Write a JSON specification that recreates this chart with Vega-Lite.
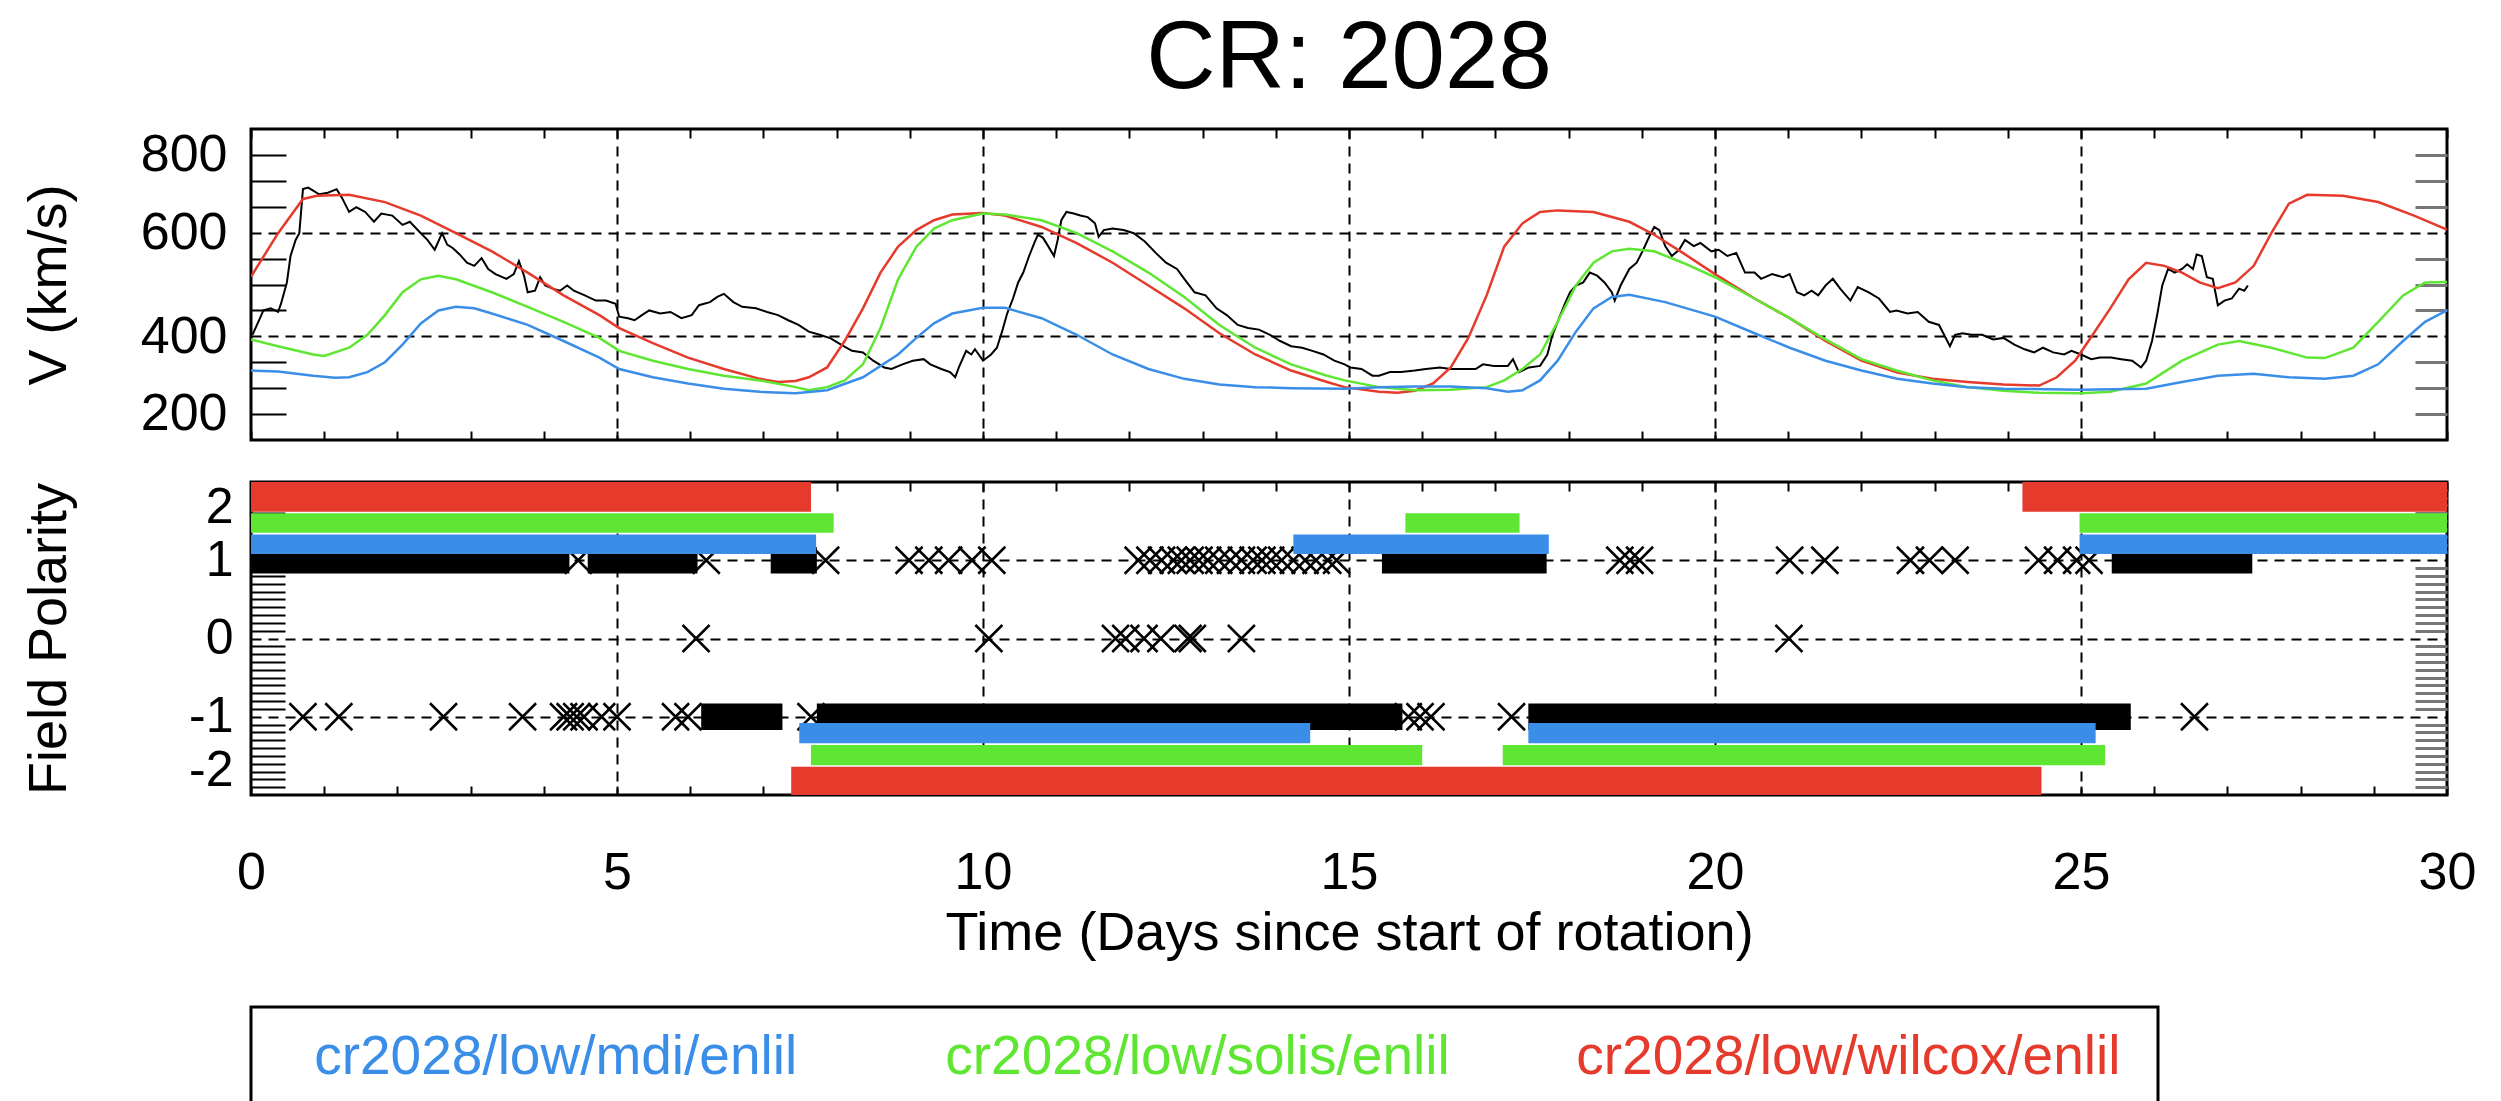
{
  "$schema": "https://vega.github.io/schema/vega-lite/v6.json",
  "background": "white",
  "padding": {"left": 20, "top": 9, "right": 5, "bottom": 0},
  "config": {
    "font": "Liberation Sans",
    "view": {"stroke": "black", "strokeWidth": 3},
    "axis": {"domain": false, "labelFont": "Liberation Sans", "titleFont": "Liberation Sans", "labelFontSize": 52, "titleFontSize": 54, "labelColor": "black", "titleColor": "black", "titleFontWeight": "normal", "tickColor": "black", "tickWidth": 2, "gridColor": "black", "gridWidth": 2, "gridDash": [10, 7], "labelOverlap": false}
  },
  "datasets": {
    "vel": [
      {"m":"observed","t":0.02,"v":403},{"m":"observed","t":0.10,"v":428},{"m":"observed","t":0.17,"v":450},{"m":"observed","t":0.27,"v":454},{"m":"observed","t":0.37,"v":447},{"m":"observed","t":0.41,"v":463},{"m":"observed","t":0.49,"v":504},{"m":"observed","t":0.54,"v":555},{"m":"observed","t":0.61,"v":586},{"m":"observed","t":0.66,"v":599},{"m":"observed","t":0.71,"v":684},{"m":"observed","t":0.78,"v":687},{"m":"observed","t":0.85,"v":681},{"m":"observed","t":0.93,"v":674},{"m":"observed","t":1.05,"v":677},{"m":"observed","t":1.17,"v":684},{"m":"observed","t":1.24,"v":668},{"m":"observed","t":1.34,"v":640},{"m":"observed","t":1.44,"v":649},{"m":"observed","t":1.56,"v":640},{"m":"observed","t":1.68,"v":621},{"m":"observed","t":1.78,"v":637},{"m":"observed","t":1.93,"v":633},{"m":"observed","t":2.07,"v":615},{"m":"observed","t":2.17,"v":621},{"m":"observed","t":2.32,"v":599},{"m":"observed","t":2.41,"v":586},{"m":"observed","t":2.51,"v":567},{"m":"observed","t":2.61,"v":599},{"m":"observed","t":2.68,"v":577},{"m":"observed","t":2.76,"v":570},{"m":"observed","t":2.85,"v":558},{"m":"observed","t":2.95,"v":542},{"m":"observed","t":3.05,"v":536},{"m":"observed","t":3.15,"v":551},{"m":"observed","t":3.24,"v":530},{"m":"observed","t":3.34,"v":520},{"m":"observed","t":3.49,"v":511},{"m":"observed","t":3.59,"v":520},{"m":"observed","t":3.66,"v":545},{"m":"observed","t":3.73,"v":517},{"m":"observed","t":3.78,"v":485},{"m":"observed","t":3.88,"v":488},{"m":"observed","t":3.95,"v":514},{"m":"observed","t":4.02,"v":498},{"m":"observed","t":4.12,"v":492},{"m":"observed","t":4.22,"v":488},{"m":"observed","t":4.32,"v":498},{"m":"observed","t":4.41,"v":488},{"m":"observed","t":4.56,"v":479},{"m":"observed","t":4.71,"v":469},{"m":"observed","t":4.85,"v":469},{"m":"observed","t":4.98,"v":463},{"m":"observed","t":5.03,"v":438},{"m":"observed","t":5.15,"v":435},{"m":"observed","t":5.24,"v":431},{"m":"observed","t":5.34,"v":441},{"m":"observed","t":5.44,"v":450},{"m":"observed","t":5.59,"v":444},{"m":"observed","t":5.73,"v":447},{"m":"observed","t":5.88,"v":435},{"m":"observed","t":6.02,"v":441},{"m":"observed","t":6.12,"v":460},{"m":"observed","t":6.27,"v":466},{"m":"observed","t":6.37,"v":476},{"m":"observed","t":6.46,"v":482},{"m":"observed","t":6.59,"v":466},{"m":"observed","t":6.71,"v":457},{"m":"observed","t":6.9,"v":454},{"m":"observed","t":7.05,"v":447},{"m":"observed","t":7.2,"v":441},{"m":"observed","t":7.34,"v":431},{"m":"observed","t":7.48,"v":422},{"m":"observed","t":7.62,"v":409},{"m":"observed","t":7.77,"v":403},{"m":"observed","t":7.92,"v":396},{"m":"observed","t":8.06,"v":384},{"m":"observed","t":8.21,"v":372},{"m":"observed","t":8.36,"v":369},{"m":"observed","t":8.5,"v":353},{"m":"observed","t":8.65,"v":340},{"m":"observed","t":8.75,"v":337},{"m":"observed","t":8.9,"v":346},{"m":"observed","t":9.04,"v":353},{"m":"observed","t":9.19,"v":356},{"m":"observed","t":9.28,"v":346},{"m":"observed","t":9.43,"v":337},{"m":"observed","t":9.55,"v":331},{"m":"observed","t":9.62,"v":321},{"m":"observed","t":9.67,"v":340},{"m":"observed","t":9.77,"v":372},{"m":"observed","t":9.84,"v":365},{"m":"observed","t":9.89,"v":375},{"m":"observed","t":10.0,"v":353},{"m":"observed","t":10.11,"v":365},{"m":"observed","t":10.19,"v":378},{"m":"observed","t":10.26,"v":409},{"m":"observed","t":10.33,"v":444},{"m":"observed","t":10.41,"v":473},{"m":"observed","t":10.48,"v":504},{"m":"observed","t":10.55,"v":523},{"m":"observed","t":10.63,"v":555},{"m":"observed","t":10.7,"v":580},{"m":"observed","t":10.75,"v":596},{"m":"observed","t":10.82,"v":590},{"m":"observed","t":10.89,"v":574},{"m":"observed","t":10.97,"v":555},{"m":"observed","t":11.02,"v":586},{"m":"observed","t":11.07,"v":624},{"m":"observed","t":11.14,"v":640},{"m":"observed","t":11.24,"v":637},{"m":"observed","t":11.33,"v":633},{"m":"observed","t":11.43,"v":630},{"m":"observed","t":11.53,"v":618},{"m":"observed","t":11.58,"v":592},{"m":"observed","t":11.65,"v":605},{"m":"observed","t":11.77,"v":608},{"m":"observed","t":11.92,"v":605},{"m":"observed","t":12.06,"v":599},{"m":"observed","t":12.21,"v":583},{"m":"observed","t":12.36,"v":561},{"m":"observed","t":12.5,"v":542},{"m":"observed","t":12.65,"v":530},{"m":"observed","t":12.75,"v":511},{"m":"observed","t":12.89,"v":485},{"m":"observed","t":13.04,"v":479},{"m":"observed","t":13.19,"v":454},{"m":"observed","t":13.33,"v":441},{"m":"observed","t":13.48,"v":422},{"m":"observed","t":13.62,"v":416},{"m":"observed","t":13.77,"v":413},{"m":"observed","t":13.92,"v":403},{"m":"observed","t":14.06,"v":391},{"m":"observed","t":14.21,"v":381},{"m":"observed","t":14.36,"v":378},{"m":"observed","t":14.5,"v":372},{"m":"observed","t":14.65,"v":365},{"m":"observed","t":14.8,"v":353},{"m":"observed","t":14.94,"v":346},{"m":"observed","t":15.02,"v":340},{"m":"observed","t":15.17,"v":337},{"m":"observed","t":15.32,"v":324},{"m":"observed","t":15.41,"v":324},{"m":"observed","t":15.56,"v":331},{"m":"observed","t":15.71,"v":331},{"m":"observed","t":15.9,"v":334},{"m":"observed","t":16.05,"v":337},{"m":"observed","t":16.24,"v":340},{"m":"observed","t":16.39,"v":337},{"m":"observed","t":16.59,"v":337},{"m":"observed","t":16.73,"v":337},{"m":"observed","t":16.83,"v":346},{"m":"observed","t":16.98,"v":343},{"m":"observed","t":17.17,"v":343},{"m":"observed","t":17.24,"v":356},{"m":"observed","t":17.32,"v":331},{"m":"observed","t":17.46,"v":340},{"m":"observed","t":17.61,"v":343},{"m":"observed","t":17.71,"v":365},{"m":"observed","t":17.78,"v":403},{"m":"observed","t":17.85,"v":428},{"m":"observed","t":17.95,"v":463},{"m":"observed","t":18.02,"v":485},{"m":"observed","t":18.1,"v":498},{"m":"observed","t":18.2,"v":504},{"m":"observed","t":18.29,"v":523},{"m":"observed","t":18.39,"v":517},{"m":"observed","t":18.49,"v":504},{"m":"observed","t":18.59,"v":485},{"m":"observed","t":18.63,"v":469},{"m":"observed","t":18.71,"v":498},{"m":"observed","t":18.83,"v":530},{"m":"observed","t":18.93,"v":542},{"m":"observed","t":19.02,"v":567},{"m":"observed","t":19.1,"v":592},{"m":"observed","t":19.17,"v":611},{"m":"observed","t":19.24,"v":605},{"m":"observed","t":19.32,"v":574},{"m":"observed","t":19.41,"v":555},{"m":"observed","t":19.51,"v":567},{"m":"observed","t":19.59,"v":586},{"m":"observed","t":19.71,"v":574},{"m":"observed","t":19.8,"v":580},{"m":"observed","t":19.95,"v":564},{"m":"observed","t":20.05,"v":567},{"m":"observed","t":20.17,"v":555},{"m":"observed","t":20.29,"v":561},{"m":"observed","t":20.41,"v":523},{"m":"observed","t":20.54,"v":523},{"m":"observed","t":20.63,"v":511},{"m":"observed","t":20.78,"v":520},{"m":"observed","t":20.93,"v":514},{"m":"observed","t":21.02,"v":520},{"m":"observed","t":21.12,"v":485},{"m":"observed","t":21.22,"v":479},{"m":"observed","t":21.32,"v":488},{"m":"observed","t":21.41,"v":479},{"m":"observed","t":21.51,"v":498},{"m":"observed","t":21.61,"v":511},{"m":"observed","t":21.71,"v":492},{"m":"observed","t":21.85,"v":469},{"m":"observed","t":21.95,"v":495},{"m":"observed","t":22.1,"v":485},{"m":"observed","t":22.24,"v":473},{"m":"observed","t":22.39,"v":447},{"m":"observed","t":22.48,"v":450},{"m":"observed","t":22.63,"v":444},{"m":"observed","t":22.77,"v":447},{"m":"observed","t":22.92,"v":428},{"m":"observed","t":23.06,"v":422},{"m":"observed","t":23.21,"v":381},{"m":"observed","t":23.28,"v":403},{"m":"observed","t":23.38,"v":406},{"m":"observed","t":23.5,"v":403},{"m":"observed","t":23.65,"v":403},{"m":"observed","t":23.8,"v":394},{"m":"observed","t":23.94,"v":397},{"m":"observed","t":24.09,"v":384},{"m":"observed","t":24.23,"v":375},{"m":"observed","t":24.36,"v":369},{"m":"observed","t":24.48,"v":378},{"m":"observed","t":24.62,"v":369},{"m":"observed","t":24.77,"v":365},{"m":"observed","t":24.87,"v":372},{"m":"observed","t":25.0,"v":365},{"m":"observed","t":25.14,"v":356},{"m":"observed","t":25.26,"v":359},{"m":"observed","t":25.41,"v":359},{"m":"observed","t":25.55,"v":356},{"m":"observed","t":25.7,"v":353},{"m":"observed","t":25.82,"v":340},{"m":"observed","t":25.89,"v":353},{"m":"observed","t":25.97,"v":391},{"m":"observed","t":26.04,"v":441},{"m":"observed","t":26.11,"v":498},{"m":"observed","t":26.19,"v":530},{"m":"observed","t":26.28,"v":523},{"m":"observed","t":26.38,"v":530},{"m":"observed","t":26.45,"v":539},{"m":"observed","t":26.53,"v":530},{"m":"observed","t":26.58,"v":558},{"m":"observed","t":26.65,"v":555},{"m":"observed","t":26.72,"v":514},{"m":"observed","t":26.8,"v":511},{"m":"observed","t":26.87,"v":460},{"m":"observed","t":26.96,"v":469},{"m":"observed","t":27.06,"v":473},{"m":"observed","t":27.16,"v":492},{"m":"observed","t":27.23,"v":488},{"m":"observed","t":27.28,"v":498},
      {"m":"wilcox","t":0,"v":515},{"m":"wilcox","t":0.37,"v":599},{"m":"wilcox","t":0.71,"v":665},{"m":"wilcox","t":0.9,"v":671},{"m":"wilcox","t":1.34,"v":673},{"m":"wilcox","t":1.83,"v":659},{"m":"wilcox","t":2.32,"v":633},{"m":"wilcox","t":2.8,"v":599},{"m":"wilcox","t":3.29,"v":564},{"m":"wilcox","t":3.78,"v":523},{"m":"wilcox","t":4.27,"v":479},{"m":"wilcox","t":4.76,"v":441},{"m":"wilcox","t":5.03,"v":416},{"m":"wilcox","t":5.49,"v":387},{"m":"wilcox","t":5.97,"v":359},{"m":"wilcox","t":6.46,"v":337},{"m":"wilcox","t":6.95,"v":318},{"m":"wilcox","t":7.2,"v":312},{"m":"wilcox","t":7.44,"v":314},{"m":"wilcox","t":7.62,"v":321},{"m":"wilcox","t":7.87,"v":340},{"m":"wilcox","t":8.11,"v":391},{"m":"wilcox","t":8.36,"v":454},{"m":"wilcox","t":8.6,"v":523},{"m":"wilcox","t":8.84,"v":573},{"m":"wilcox","t":9.09,"v":605},{"m":"wilcox","t":9.33,"v":624},{"m":"wilcox","t":9.58,"v":635},{"m":"wilcox","t":10.0,"v":638},{"m":"wilcox","t":10.3,"v":633},{"m":"wilcox","t":10.8,"v":611},{"m":"wilcox","t":11.28,"v":580},{"m":"wilcox","t":11.77,"v":542},{"m":"wilcox","t":12.26,"v":498},{"m":"wilcox","t":12.75,"v":454},{"m":"wilcox","t":13.23,"v":406},{"m":"wilcox","t":13.72,"v":365},{"m":"wilcox","t":14.21,"v":334},{"m":"wilcox","t":14.7,"v":312},{"m":"wilcox","t":14.94,"v":302},{"m":"wilcox","t":15.41,"v":293},{"m":"wilcox","t":15.66,"v":291},{"m":"wilcox","t":15.9,"v":295},{"m":"wilcox","t":16.15,"v":309},{"m":"wilcox","t":16.39,"v":340},{"m":"wilcox","t":16.63,"v":397},{"m":"wilcox","t":16.88,"v":479},{"m":"wilcox","t":17.12,"v":573},{"m":"wilcox","t":17.37,"v":618},{"m":"wilcox","t":17.61,"v":640},{"m":"wilcox","t":17.85,"v":643},{"m":"wilcox","t":18.34,"v":640},{"m":"wilcox","t":18.83,"v":621},{"m":"wilcox","t":19.17,"v":596},{"m":"wilcox","t":19.56,"v":561},{"m":"wilcox","t":20.0,"v":520},{"m":"wilcox","t":20.54,"v":473},{"m":"wilcox","t":21.02,"v":435},{"m":"wilcox","t":21.51,"v":391},{"m":"wilcox","t":22.0,"v":353},{"m":"wilcox","t":22.49,"v":330},{"m":"wilcox","t":22.97,"v":318},{"m":"wilcox","t":23.45,"v":312},{"m":"wilcox","t":23.94,"v":307},{"m":"wilcox","t":24.43,"v":305},{"m":"wilcox","t":24.67,"v":321},{"m":"wilcox","t":24.92,"v":353},{"m":"wilcox","t":25.16,"v":403},{"m":"wilcox","t":25.4,"v":454},{"m":"wilcox","t":25.65,"v":510},{"m":"wilcox","t":25.89,"v":542},{"m":"wilcox","t":26.14,"v":536},{"m":"wilcox","t":26.38,"v":523},{"m":"wilcox","t":26.62,"v":504},{"m":"wilcox","t":26.87,"v":493},{"m":"wilcox","t":27.11,"v":504},{"m":"wilcox","t":27.36,"v":536},{"m":"wilcox","t":27.6,"v":599},{"m":"wilcox","t":27.84,"v":656},{"m":"wilcox","t":28.09,"v":673},{"m":"wilcox","t":28.58,"v":671},{"m":"wilcox","t":29.06,"v":659},{"m":"wilcox","t":29.55,"v":633},{"m":"wilcox","t":30.0,"v":606},
      {"m":"solis","t":0,"v":394},{"m":"solis","t":0.37,"v":381},{"m":"solis","t":0.85,"v":365},{"m":"solis","t":1.0,"v":362},{"m":"solis","t":1.34,"v":378},{"m":"solis","t":1.59,"v":403},{"m":"solis","t":1.83,"v":441},{"m":"solis","t":2.07,"v":485},{"m":"solis","t":2.32,"v":510},{"m":"solis","t":2.56,"v":517},{"m":"solis","t":2.8,"v":510},{"m":"solis","t":3.29,"v":485},{"m":"solis","t":3.78,"v":457},{"m":"solis","t":4.27,"v":428},{"m":"solis","t":4.76,"v":397},{"m":"solis","t":5.03,"v":372},{"m":"solis","t":5.49,"v":353},{"m":"solis","t":5.97,"v":337},{"m":"solis","t":6.46,"v":324},{"m":"solis","t":6.95,"v":315},{"m":"solis","t":7.44,"v":302},{"m":"solis","t":7.62,"v":296},{"m":"solis","t":7.87,"v":302},{"m":"solis","t":8.11,"v":315},{"m":"solis","t":8.36,"v":346},{"m":"solis","t":8.6,"v":416},{"m":"solis","t":8.84,"v":510},{"m":"solis","t":9.09,"v":573},{"m":"solis","t":9.33,"v":608},{"m":"solis","t":9.58,"v":624},{"m":"solis","t":10.0,"v":637},{"m":"solis","t":10.3,"v":635},{"m":"solis","t":10.8,"v":624},{"m":"solis","t":11.28,"v":599},{"m":"solis","t":11.77,"v":564},{"m":"solis","t":12.26,"v":523},{"m":"solis","t":12.75,"v":476},{"m":"solis","t":13.23,"v":422},{"m":"solis","t":13.72,"v":378},{"m":"solis","t":14.21,"v":346},{"m":"solis","t":14.7,"v":324},{"m":"solis","t":14.94,"v":315},{"m":"solis","t":15.41,"v":302},{"m":"solis","t":15.9,"v":296},{"m":"solis","t":16.39,"v":297},{"m":"solis","t":16.88,"v":302},{"m":"solis","t":17.12,"v":315},{"m":"solis","t":17.37,"v":337},{"m":"solis","t":17.61,"v":365},{"m":"solis","t":17.85,"v":428},{"m":"solis","t":18.1,"v":498},{"m":"solis","t":18.34,"v":542},{"m":"solis","t":18.59,"v":564},{"m":"solis","t":18.83,"v":569},{"m":"solis","t":19.17,"v":564},{"m":"solis","t":19.56,"v":542},{"m":"solis","t":20.0,"v":514},{"m":"solis","t":20.54,"v":473},{"m":"solis","t":21.02,"v":435},{"m":"solis","t":21.51,"v":394},{"m":"solis","t":22.0,"v":356},{"m":"solis","t":22.48,"v":334},{"m":"solis","t":22.97,"v":315},{"m":"solis","t":23.45,"v":302},{"m":"solis","t":23.94,"v":295},{"m":"solis","t":24.43,"v":291},{"m":"solis","t":25.0,"v":290},{"m":"solis","t":25.4,"v":293},{"m":"solis","t":25.89,"v":309},{"m":"solis","t":26.38,"v":353},{"m":"solis","t":26.87,"v":384},{"m":"solis","t":27.16,"v":391},{"m":"solis","t":27.6,"v":378},{"m":"solis","t":28.09,"v":359},{"m":"solis","t":28.33,"v":358},{"m":"solis","t":28.72,"v":378},{"m":"solis","t":29.06,"v":428},{"m":"solis","t":29.4,"v":479},{"m":"solis","t":29.7,"v":504},{"m":"solis","t":30.0,"v":505},
      {"m":"mdi","t":0,"v":334},{"m":"mdi","t":0.37,"v":332},{"m":"mdi","t":0.85,"v":324},{"m":"mdi","t":1.15,"v":320},{"m":"mdi","t":1.34,"v":321},{"m":"mdi","t":1.59,"v":331},{"m":"mdi","t":1.83,"v":350},{"m":"mdi","t":2.07,"v":384},{"m":"mdi","t":2.32,"v":425},{"m":"mdi","t":2.56,"v":450},{"m":"mdi","t":2.8,"v":457},{"m":"mdi","t":3.05,"v":454},{"m":"mdi","t":3.29,"v":444},{"m":"mdi","t":3.78,"v":422},{"m":"mdi","t":4.27,"v":391},{"m":"mdi","t":4.76,"v":359},{"m":"mdi","t":5.03,"v":337},{"m":"mdi","t":5.49,"v":321},{"m":"mdi","t":5.97,"v":309},{"m":"mdi","t":6.46,"v":299},{"m":"mdi","t":6.95,"v":293},{"m":"mdi","t":7.44,"v":290},{"m":"mdi","t":7.87,"v":296},{"m":"mdi","t":8.36,"v":321},{"m":"mdi","t":8.84,"v":365},{"m":"mdi","t":9.09,"v":397},{"m":"mdi","t":9.33,"v":425},{"m":"mdi","t":9.58,"v":444},{"m":"mdi","t":10.0,"v":455},{"m":"mdi","t":10.3,"v":455},{"m":"mdi","t":10.8,"v":435},{"m":"mdi","t":11.28,"v":403},{"m":"mdi","t":11.77,"v":365},{"m":"mdi","t":12.26,"v":337},{"m":"mdi","t":12.75,"v":318},{"m":"mdi","t":13.23,"v":307},{"m":"mdi","t":13.72,"v":302},{"m":"mdi","t":14.21,"v":300},{"m":"mdi","t":14.94,"v":299},{"m":"mdi","t":15.41,"v":302},{"m":"mdi","t":15.9,"v":303},{"m":"mdi","t":16.39,"v":303},{"m":"mdi","t":16.88,"v":300},{"m":"mdi","t":17.17,"v":293},{"m":"mdi","t":17.37,"v":296},{"m":"mdi","t":17.61,"v":315},{"m":"mdi","t":17.85,"v":353},{"m":"mdi","t":18.1,"v":409},{"m":"mdi","t":18.34,"v":454},{"m":"mdi","t":18.59,"v":476},{"m":"mdi","t":18.83,"v":480},{"m":"mdi","t":19.32,"v":466},{"m":"mdi","t":20.0,"v":438},{"m":"mdi","t":20.54,"v":406},{"m":"mdi","t":21.02,"v":378},{"m":"mdi","t":21.51,"v":353},{"m":"mdi","t":22.0,"v":334},{"m":"mdi","t":22.49,"v":318},{"m":"mdi","t":22.97,"v":309},{"m":"mdi","t":23.45,"v":302},{"m":"mdi","t":23.94,"v":299},{"m":"mdi","t":25.0,"v":297},{"m":"mdi","t":25.89,"v":299},{"m":"mdi","t":26.38,"v":312},{"m":"mdi","t":26.87,"v":324},{"m":"mdi","t":27.36,"v":328},{"m":"mdi","t":27.84,"v":321},{"m":"mdi","t":28.33,"v":318},{"m":"mdi","t":28.72,"v":324},{"m":"mdi","t":29.06,"v":346},{"m":"mdi","t":29.4,"v":391},{"m":"mdi","t":29.7,"v":428},{"m":"mdi","t":30.0,"v":450}
    ],
    "bands": [
      {"m":"wilcox","t0":0,"t1":7.65,"lo":1.62,"hi":2.0},
      {"m":"wilcox","t0":24.2,"t1":30,"lo":1.62,"hi":2.0},
      {"m":"solis","t0":0,"t1":7.96,"lo":1.35,"hi":1.6},
      {"m":"solis","t0":15.77,"t1":17.33,"lo":1.35,"hi":1.6},
      {"m":"solis","t0":24.98,"t1":30,"lo":1.35,"hi":1.6},
      {"m":"mdi","t0":0,"t1":7.72,"lo":1.08,"hi":1.33},
      {"m":"mdi","t0":14.24,"t1":17.73,"lo":1.08,"hi":1.33},
      {"m":"mdi","t0":24.98,"t1":30,"lo":1.08,"hi":1.33},
      {"m":"mdi","t0":7.49,"t1":14.47,"lo":-1.34,"hi":-1.08},
      {"m":"mdi","t0":17.45,"t1":25.2,"lo":-1.34,"hi":-1.08},
      {"m":"solis","t0":7.65,"t1":16.0,"lo":-1.62,"hi":-1.36},
      {"m":"solis","t0":17.1,"t1":25.33,"lo":-1.62,"hi":-1.36},
      {"m":"wilcox","t0":7.38,"t1":24.46,"lo":-2.0,"hi":-1.64}
    ],
    "runs": [
      {"t0":0,"t1":4.35,"lo":0.83,"hi":1.17},
      {"t0":4.6,"t1":6.1,"lo":0.83,"hi":1.17},
      {"t0":7.1,"t1":7.73,"lo":0.83,"hi":1.17},
      {"t0":15.45,"t1":17.7,"lo":0.83,"hi":1.17},
      {"t0":25.42,"t1":27.34,"lo":0.83,"hi":1.17},
      {"t0":6.15,"t1":7.26,"lo":-1.17,"hi":-0.83},
      {"t0":7.73,"t1":15.73,"lo":-1.17,"hi":-0.83},
      {"t0":17.45,"t1":25.68,"lo":-1.17,"hi":-0.83}
    ],
    "xs": [
      {"t":4.47,"p":1},{"t":6.22,"p":1},{"t":7.85,"p":1},{"t":8.99,"p":1},{"t":9.26,"p":1},{"t":9.53,"p":1},{"t":9.85,"p":1},{"t":10.12,"p":1},
      {"t":12.12,"p":1},{"t":12.28,"p":1},{"t":12.44,"p":1},{"t":12.6,"p":1},{"t":12.71,"p":1},{"t":12.83,"p":1},{"t":12.95,"p":1},{"t":13.07,"p":1},{"t":13.22,"p":1},{"t":13.38,"p":1},{"t":13.53,"p":1},{"t":13.69,"p":1},{"t":13.81,"p":1},{"t":13.93,"p":1},{"t":14.08,"p":1},{"t":14.24,"p":1},{"t":14.4,"p":1},{"t":14.55,"p":1},{"t":14.71,"p":1},{"t":14.83,"p":1},
      {"t":18.7,"p":1},{"t":18.84,"p":1},{"t":18.97,"p":1},{"t":21.02,"p":1},{"t":21.5,"p":1},{"t":22.67,"p":1},{"t":22.93,"p":1},{"t":23.28,"p":1},{"t":24.42,"p":1},{"t":24.68,"p":1},{"t":24.94,"p":1},{"t":25.11,"p":1},
      {"t":6.08,"p":0},{"t":10.08,"p":0},{"t":11.81,"p":0},{"t":11.95,"p":0},{"t":12.2,"p":0},{"t":12.43,"p":0},{"t":12.8,"p":0},{"t":12.86,"p":0},{"t":13.53,"p":0},{"t":21.01,"p":0},
      {"t":0.71,"p":-1},{"t":1.2,"p":-1},{"t":2.63,"p":-1},{"t":3.71,"p":-1},{"t":4.27,"p":-1},{"t":4.36,"p":-1},{"t":4.45,"p":-1},{"t":4.55,"p":-1},{"t":4.79,"p":-1},{"t":5.0,"p":-1},{"t":5.8,"p":-1},{"t":5.97,"p":-1},{"t":7.65,"p":-1},{"t":15.81,"p":-1},{"t":15.97,"p":-1},{"t":16.12,"p":-1},{"t":17.22,"p":-1},{"t":26.55,"p":-1}
    ],
    "legend": [
      {"m":"mdi","label":"cr2028/low/mdi/enlil"},
      {"m":"solis","label":"cr2028/low/solis/enlil"},
      {"m":"wilcox","label":"cr2028/low/wilcox/enlil"}
    ]
  },
  "vconcat": [
    {
      "vconcat": [
        {
          "width": 2196,
          "height": 311,
          "title": {"text": "CR: 2028", "fontSize": 96, "font": "Liberation Sans", "fontWeight": "normal", "anchor": "middle", "baseline": "alphabetic", "offset": -56, "color": "black"},
          "data": {"name": "vel"},
          "layer": [
            {
              "transform": [{"filter": "datum.m == 'observed'"}],
              "mark": {"type": "line", "strokeWidth": 2, "color": "black", "clip": true},
              "encoding": {
                "x": {"field": "t", "type": "quantitative", "scale": {"domain": [0, 30], "nice": false, "zero": false},
                  "axis": {"orient": "bottom", "values": [0,1,2,3,4,5,6,7,8,9,10,11,12,13,14,15,16,17,18,19,20,21,22,23,24,25,26,27,28,29,30], "tickSize": -9, "labels": false, "title": null, "grid": true,
                    "gridOpacity": {"condition": {"test": "datum.value % 5 == 0 && datum.value > 0 && datum.value < 30", "value": 1}, "value": 0}}},
                "y": {"field": "v", "type": "quantitative", "scale": {"domain": [200, 800], "nice": false, "zero": false},
                  "axis": {"orient": "left", "values": [200,250,300,350,400,450,500,550,600,650,700,750,800], "tickSize": -35,
                    "tickOpacity": {"condition": {"test": "datum.value % 200 == 0", "value": 0}, "value": 1},
                    "labelExpr": "datum.value % 200 == 0 ? datum.label : ''", "labelPadding": 59, "labelFlush": true,
                    "grid": true, "gridOpacity": {"condition": {"test": "datum.value == 400 || datum.value == 600", "value": 1}, "value": 0},
                    "title": "V (km/s)", "titleX": -186, "titleBaseline": "alphabetic", "titleAngle": -90}}
              }
            },
            {
              "transform": [{"filter": "datum.m != 'observed'"}],
              "mark": {"type": "line", "strokeWidth": 2.5, "clip": true},
              "encoding": {
                "x": {"field": "t", "type": "quantitative", "scale": {"domain": [0, 30], "nice": false, "zero": false},
                  "axis": {"orient": "top", "values": [0,1,2,3,4,5,6,7,8,9,10,11,12,13,14,15,16,17,18,19,20,21,22,23,24,25,26,27,28,29,30], "tickSize": -9, "labels": false, "title": null, "grid": false}},
                "y": {"field": "v", "type": "quantitative", "scale": {"domain": [200, 800], "nice": false, "zero": false},
                  "axis": {"orient": "right", "values": [250,300,350,450,500,550,650,700,750], "tickSize": -32, "tickColor": "#777777", "tickWidth": 3, "labels": false, "title": null, "grid": false}},
                "color": {"field": "m", "type": "nominal", "scale": {"domain": ["mdi", "solis", "wilcox"], "range": ["#3a8ee8", "#5ee632", "#e53a2c"]}, "legend": null}
              }
            }
          ],
          "resolve": {"axis": {"x": "independent", "y": "independent"}}
        },
        {
          "width": 2196,
          "height": 313,
          "layer": [
            {
              "data": {"name": "runs"},
              "mark": {"type": "rect", "color": "black"},
              "encoding": {
                "x": {"field": "t0", "type": "quantitative", "scale": {"domain": [0, 30], "nice": false, "zero": false},
                  "axis": {"orient": "bottom", "values": [0,1,2,3,4,5,6,7,8,9,10,11,12,13,14,15,16,17,18,19,20,21,22,23,24,25,26,27,28,29,30], "tickSize": -9,
                    "labelExpr": "datum.value % 5 == 0 ? datum.label : ''", "labelPadding": 61, "labelFlush": false,
                    "grid": true, "gridOpacity": {"condition": {"test": "datum.value % 5 == 0 && datum.value > 0 && datum.value < 30", "value": 1}, "value": 0},
                    "title": "Time (Days since start of rotation)", "titlePadding": 8}},
                "x2": {"field": "t1"},
                "y": {"field": "lo", "type": "quantitative", "scale": {"domain": [-2, 2], "nice": false, "zero": false},
                  "axis": {"orient": "left", "values": [-2,-1.9,-1.8,-1.7,-1.6,-1.5,-1.4,-1.3,-1.2,-1.1,-1,-0.9,-0.8,-0.7,-0.6,-0.5,-0.4,-0.3,-0.2,-0.1,0,0.1,0.2,0.3,0.4,0.5,0.6,0.7,0.8,0.9,1,1.1,1.2,1.3,1.4,1.5,1.6,1.7,1.8,1.9,2],
                    "tickSize": -34, "labelFontSize": 50,
                    "tickOpacity": {"condition": {"test": "abs(datum.value - round(datum.value)) < 0.001", "value": 0}, "value": 1},
                    "labelExpr": "abs(datum.value - round(datum.value)) < 0.001 ? toString(round(datum.value)) : ''", "labelPadding": 52, "labelFlush": true,
                    "grid": true, "gridOpacity": {"condition": {"test": "abs(datum.value - round(datum.value)) < 0.001 && abs(datum.value) < 1.5", "value": 1}, "value": 0},
                    "title": "Field Polarity", "titleX": -186, "titleBaseline": "alphabetic", "titleAngle": -90}},
                "y2": {"field": "hi"}
              }
            },
            {
              "data": {"name": "xs"},
              "mark": {"type": "point", "shape": "M-1,-1L1,1M-1,1L1,-1", "filled": false, "size": 729, "strokeWidth": 2.5, "color": "black", "opacity": 1},
              "encoding": {
                "x": {"field": "t", "type": "quantitative", "scale": {"domain": [0, 30], "nice": false, "zero": false}, "axis": null},
                "y": {"field": "p", "type": "quantitative", "scale": {"domain": [-2, 2], "nice": false, "zero": false}, "axis": null}
              }
            },
            {
              "data": {"name": "bands"},
              "mark": {"type": "rect"},
              "encoding": {
                "x": {"field": "t0", "type": "quantitative", "scale": {"domain": [0, 30], "nice": false, "zero": false},
                  "axis": {"orient": "top", "values": [0,1,2,3,4,5,6,7,8,9,10,11,12,13,14,15,16,17,18,19,20,21,22,23,24,25,26,27,28,29,30], "tickSize": -9, "labels": false, "title": null, "grid": false}},
                "x2": {"field": "t1"},
                "y": {"field": "lo", "type": "quantitative", "scale": {"domain": [-2, 2], "nice": false, "zero": false},
                  "axis": {"orient": "right", "values": [-1.9,-1.8,-1.7,-1.6,-1.5,-1.4,-1.3,-1.2,-1.1,-0.9,-0.8,-0.7,-0.6,-0.5,-0.4,-0.3,-0.2,-0.1,0.1,0.2,0.3,0.4,0.5,0.6,0.7,0.8,0.9,1.1,1.2,1.3,1.4,1.5,1.6,1.7,1.8,1.9], "tickSize": -32, "tickColor": "#777777", "tickWidth": 3, "labels": false, "title": null, "grid": false}},
                "y2": {"field": "hi"},
                "color": {"field": "m", "type": "nominal", "scale": {"domain": ["mdi", "solis", "wilcox"], "range": ["#3a8ee8", "#5ee632", "#e53a2c"]}, "legend": null}
              }
            }
          ],
          "resolve": {"axis": {"x": "independent", "y": "independent"}}
        }
      ],
      "spacing": 42,
      "bounds": "flush"
    },
    {
      "width": 1907,
      "height": 100,
      "data": {"name": "legend"},
      "mark": {"type": "text", "align": "left", "baseline": "middle", "fontSize": 55, "font": "Liberation Sans"},
      "encoding": {
        "x": {"field": "label", "type": "nominal", "sort": null, "scale": {"type": "point", "padding": 0.511, "align": 0.098}, "axis": null},
        "text": {"field": "label"},
        "color": {"field": "m", "type": "nominal", "scale": {"domain": ["mdi", "solis", "wilcox"], "range": ["#3a8ee8", "#5ee632", "#e53a2c"]}, "legend": null}
      }
    }
  ],
  "spacing": 43
}
